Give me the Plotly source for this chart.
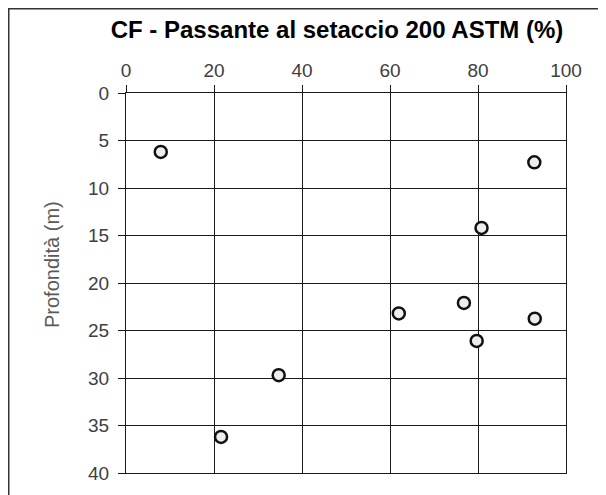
import plotly.graph_objects as go

# Data
passante = [7.9, 92.8, 80.8, 76.8, 62.0, 92.9, 79.7, 34.7, 21.6]
profondita = [6.2, 7.3, 14.2, 22.1, 23.2, 23.75, 26.1, 29.7, 36.2]
x_ticks = [0, 20, 40, 60, 80, 100]
y_ticks = [0, 5, 10, 15, 20, 25, 30, 35, 40]

W, H = 606, 495
L, T = 118, 85
pw, ph = 440, 380
R, B = W - L - pw, H - T - ph

fig = go.Figure(go.Scatter(
    x=passante, y=profondita, mode="markers",
    marker=dict(size=12, color="#eeeeee", line=dict(color="#111111", width=2.5)),
    showlegend=False, hoverinfo="x+y",
))

font = "Liberation Sans, Arial, sans-serif"
fig.update_layout(
    width=W, height=H,
    margin=dict(l=L, r=R, t=T, b=B),
    paper_bgcolor="white", plot_bgcolor="white",
    font=dict(family=font, color="#404040", size=19),
    title=dict(text="<b>CF - Passante al setaccio 200 ASTM (%)</b>",
               x=329 / W, xanchor="center",
               y=1 - 22 / H, yanchor="middle",
               font=dict(family=font, size=24, color="#000000")),
    xaxis=dict(side="top", range=[0, 100], tickvals=x_ticks,
               showgrid=True, gridcolor="#1a1a1a", gridwidth=1,
               showline=True, linecolor="#1a1a1a", linewidth=1, mirror=True,
               ticks="outside", ticklen=7, tickcolor="#1a1a1a",
               zeroline=False, fixedrange=True),
    yaxis=dict(range=[40, 0], tickvals=y_ticks,
               showgrid=True, gridcolor="#1a1a1a", gridwidth=1,
               showline=True, linecolor="#1a1a1a", linewidth=1, mirror=True,
               ticks="outside", ticklen=7, tickcolor="#1a1a1a",
               ticklabelstandoff=5,
               zeroline=False, fixedrange=True),
)

fig.add_annotation(text="Profondità (m)", textangle=-90,
                   xref="paper", yref="paper",
                   x=(44 - L) / pw, y=(H - B - 257) / ph,
                   xanchor="center", yanchor="middle", showarrow=False,
                   font=dict(family=font, size=20, color="#595959"))

# Outer chart frame (right and bottom edges fall outside the window)
fig.add_shape(type="rect", xref="paper", yref="paper",
              x0=(0.75 - L) / pw, x1=(W - 0.75 - L) / pw,
              y0=-(B - 0.75) / ph, y1=(H - B - 0.75) / ph,
              line=dict(color="#333333", width=1.5), fillcolor="rgba(0,0,0,0)",
              layer="below")

fig.write_html("out.html")
